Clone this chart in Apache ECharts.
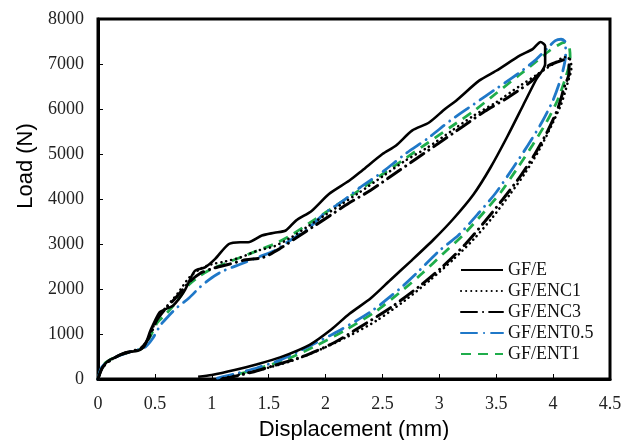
<!DOCTYPE html>
<html>
<head>
<meta charset="utf-8">
<script src="https://cdn.jsdelivr.net/npm/echarts@6/dist/echarts.min.js"></script>
<style>html,body{margin:0;padding:0;background:#fff;}#c{width:633px;height:440px;}</style>
</head>
<body>
<div id="c"></div>
<script>
const seriesNames = ['GF/E', 'GF/ENC1', 'GF/ENC3', 'GF/ENT0.5', 'GF/ENT1'];
const xTicks = { min: 0, max: 4.5, interval: 0.5 };
const yTicks = { min: 0, max: 8000, interval: 1000 };

// [displacement (mm), load (N)] loading then unloading
const gfE = [[0,0],[0.03,200],[0.06,330],[0.1,420],[0.15,480],[0.24,590],[0.35,630],[0.41,740],[0.46,1070],[0.54,1480],[0.6,1560],[0.66,1630],[0.76,1960],[0.85,2400],[0.94,2480],[1.03,2670],[1.15,3000],[1.25,3040],[1.32,3040],[1.44,3190],[1.55,3250],[1.65,3300],[1.74,3520],[1.88,3740],[2.03,4110],[2.21,4410],[2.32,4630],[2.5,5000],[2.62,5190],[2.76,5520],[2.91,5700],[3.05,6000],[3.15,6190],[3.35,6630],[3.5,6850],[3.71,7190],[3.82,7330],[3.89,7490],[3.93,7400],[3.93,7000],
  [3.85,6650],[3.74,6100],[3.6,5400],[3.45,4700],[3.3,4100],[3.12,3550],[2.95,3100],[2.75,2620],[2.57,2200],[2.4,1800],[2.21,1450],[2.05,1100],[1.86,760],[1.6,480],[1.4,330],[1.2,200],[1.0,90],[0.88,50]];
const gfENC1 = [[0,0],[0.04,250],[0.1,400],[0.2,540],[0.3,610],[0.38,680],[0.45,950],[0.52,1350],[0.6,1600],[0.7,1900],[0.8,2250],[0.9,2450],[1.0,2550],[1.1,2600],[1.25,2700],[1.4,2850],[1.55,2950],[1.7,3150],[1.85,3400],[2.0,3650],[2.15,3900],[2.3,4150],[2.5,4500],[2.7,4850],[2.9,5150],[3.1,5500],[3.3,5850],[3.5,6150],[3.7,6500],[3.85,6750],[4.0,7000],[4.1,7150],[4.15,7100],
  [4.16,6900],[4.13,6600],[4.07,6100],[3.98,5600],[3.88,5100],[3.76,4600],[3.62,4100],[3.47,3600],[3.3,3100],[3.12,2650],[2.92,2200],[2.7,1750],[2.45,1300],[2.2,950],[1.95,650],[1.7,400],[1.45,220],[1.25,100],[1.1,20]];
const gfENC3 = [[0,0],[0.04,260],[0.1,400],[0.2,540],[0.3,620],[0.38,690],[0.45,930],[0.52,1320],[0.6,1580],[0.7,1850],[0.8,2150],[0.9,2350],[1.0,2450],[1.15,2550],[1.3,2650],[1.45,2700],[1.6,2900],[1.75,3150],[1.9,3400],[2.05,3650],[2.2,3900],[2.4,4200],[2.6,4550],[2.8,4900],[3.0,5250],[3.2,5600],[3.4,5950],[3.6,6250],[3.8,6600],[3.95,6950],[4.1,7100],[4.14,7120],
  [4.14,6800],[4.1,6500],[4.04,6000],[3.95,5500],[3.84,5000],[3.71,4500],[3.56,4000],[3.4,3500],[3.23,3000],[3.03,2500],[2.82,2050],[2.58,1600],[2.3,1150],[2.07,800],[1.8,500],[1.55,300],[1.35,150],[1.15,30],[1.08,0]];
const gfENT05 = [[0,0],[0.03,250],[0.08,380],[0.15,480],[0.25,580],[0.35,650],[0.42,720],[0.48,900],[0.55,1200],[0.62,1400],[0.7,1600],[0.8,1800],[0.9,2050],[1.0,2250],[1.1,2400],[1.25,2550],[1.4,2700],[1.55,2850],[1.7,3100],[1.85,3350],[2.0,3700],[2.15,3950],[2.3,4250],[2.5,4600],[2.7,5000],[2.9,5350],[3.1,5750],[3.3,6100],[3.5,6450],[3.7,6800],[3.85,7100],[3.95,7350],[4.02,7520],[4.07,7550],[4.11,7480],
  [4.11,7200],[4.07,6700],[4.0,6200],[3.9,5700],[3.78,5200],[3.65,4700],[3.5,4150],[3.35,3700],[3.17,3200],[3.0,2850],[2.8,2350],[2.65,2000],[2.4,1500],[2.13,1090],[1.85,720],[1.6,420],[1.4,250],[1.2,110],[1.05,20]];
const gfENT1 = [[0,0],[0.04,300],[0.1,420],[0.2,540],[0.3,610],[0.38,670],[0.45,900],[0.52,1250],[0.6,1450],[0.7,1750],[0.8,2100],[0.9,2300],[1.0,2450],[1.1,2550],[1.25,2700],[1.4,2850],[1.55,3000],[1.7,3200],[1.85,3450],[2.0,3700],[2.15,3950],[2.3,4200],[2.5,4550],[2.7,4900],[2.9,5250],[3.1,5600],[3.3,5950],[3.5,6350],[3.7,6750],[3.85,7050],[3.97,7300],[4.05,7430],[4.1,7480],[4.14,7400],
  [4.15,7100],[4.11,6700],[4.04,6200],[3.94,5700],[3.82,5200],[3.69,4700],[3.54,4150],[3.39,3700],[3.21,3200],[3.04,2800],[2.85,2350],[2.69,2000],[2.44,1500],[2.17,1080],[1.9,720],[1.65,430],[1.42,240],[1.22,100],[1.05,10]];

const seriesData = [gfE, gfENC1, gfENC3, gfENT05, gfENT1];
const styles = [
  { color: '#000000', width: 2.6, type: 'solid', cap: 'butt' },
  { color: '#000000', width: 2.6, type: [0.1, 5], cap: 'round' },
  { color: '#000000', width: 3, type: [16, 6, 0.1, 6], cap: 'round' },
  { color: '#1f78c8', width: 2.8, type: [16, 7, 0.1, 7], cap: 'round' },
  { color: '#1fad4b', width: 2.8, type: [10, 7], cap: 'butt' }
];

const chart = echarts.init(document.getElementById('c'), null, { renderer: 'canvas' });
const serif = 'Liberation Serif, Times New Roman, serif';
const sans = 'Liberation Sans, Arial, sans-serif';

chart.setOption({
  animation: false,
  backgroundColor: '#ffffff',
  grid: { left: 98, right: 23, top: 19, bottom: 61, show: true, borderColor: '#000', borderWidth: 3, backgroundColor: 'transparent', containLabel: false, outerBoundsMode: 'none' },
  legend: {
    orient: 'vertical',
    left: 455, top: 256,
    itemWidth: 42, itemHeight: 2, itemGap: 3,
    data: seriesNames,
    itemStyle: { opacity: 0 },
    textStyle: { fontFamily: serif, fontSize: 18, color: '#111', lineHeight: 18 }
  },
  xAxis: {
    type: 'value', min: xTicks.min, max: xTicks.max, interval: xTicks.interval,
    name: 'Displacement (mm)', nameLocation: 'middle', nameGap: 40,
    nameTextStyle: { fontFamily: sans, fontSize: 22, color: '#000' },
    axisLine: { show: true, onZero: false, lineStyle: { color: '#000', width: 3 } },
    axisTick: { show: true, inside: true, length: 5, lineStyle: { color: '#000', width: 1 } },
    axisLabel: { fontFamily: serif, fontSize: 18, color: '#222', margin: 16, formatter: v => String(v) },
    splitLine: { show: false }
  },
  yAxis: {
    type: 'value', min: yTicks.min, max: yTicks.max, interval: yTicks.interval,
    name: 'Load (N)', nameLocation: 'middle', nameGap: 60,
    nameTextStyle: { fontFamily: sans, fontSize: 22, color: '#000', padding: [0, 0, 0, 66] },
    axisLine: { show: true, onZero: false, lineStyle: { color: '#000', width: 3 } },
    axisTick: { show: true, inside: true, length: 5, lineStyle: { color: '#000', width: 1 } },
    axisLabel: { fontFamily: serif, fontSize: 18, color: '#222', margin: 14, formatter: v => String(v) },
    splitLine: { show: false }
  },
  series: seriesNames.map((n, i) => ({
    name: n, type: 'line', data: seriesData[i],
    showSymbol: false, symbol: 'none', smooth: 0.25,
    lineStyle: { color: styles[i].color, width: styles[i].width, type: styles[i].type, cap: styles[i].cap },
    itemStyle: { color: styles[i].color },
    z: 5 - i
  }))
});
</script>
</body>
</html>
